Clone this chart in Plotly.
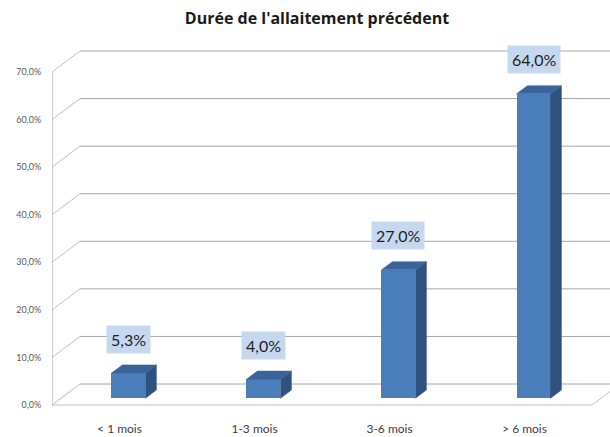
import plotly.graph_objects as go

# ---- data ----
categories = ["< 1 mois", "1-3 mois", "3-6 mois", "> 6 mois"]
values = [0.053, 0.040, 0.270, 0.640]
value_labels = ["5,3%", "4,0%", "27,0%", "64,0%"]
y_ticks = [0.0, 0.1, 0.2, 0.3, 0.4, 0.5, 0.6, 0.7]
title_text = "Durée de l'allaitement précédent"

# ---- pseudo-3D geometry (styling) ----
W, H = 610, 437
ml, mr, mt, mb = 52, 0, 40, 27
x0, x1 = -0.5, 3.633
y0, y1 = -0.0105, 0.7673
px_x = (W - ml - mr) / (x1 - x0)
px_y = (H - mt - mb) / (y1 - y0)
ddx = 28 / px_x          # wall depth in x units
ddy = 21 / px_y          # wall depth in y units
f1 = 0.32                # bar front depth fraction
fd = 0.39                # bar depth fraction
bw = 34 / px_x           # bar width

front_col = "#4a7ebb"
side_col = "#2f527f"
top_col = "#3a6499"
grid_col = "#a6a6a6"
diag_col = "#bfbfbf"

fig = go.Figure()
shapes = []

# walls / gridlines
for v in y_ticks:
    shapes.append(dict(type="line", xref="x", yref="y", x0=x0, y0=v, x1=x0 + ddx, y1=v + ddy,
                       line=dict(color=diag_col, width=1), layer="below"))
    shapes.append(dict(type="line", xref="x", yref="y", x0=x0 + ddx, y0=v + ddy, x1=x1 + 1, y1=v + ddy,
                       line=dict(color=grid_col, width=1), layer="below"))
# floor front edge and right diagonal
shapes.append(dict(type="line", xref="x", yref="y", x0=x0, y0=0, x1=3.5, y1=0,
                   line=dict(color=diag_col, width=1), layer="below"))
shapes.append(dict(type="line", xref="x", yref="y", x0=3.5, y0=0, x1=3.5 + ddx, y1=ddy,
                   line=dict(color=diag_col, width=1), layer="below"))
# left axis
shapes.append(dict(type="line", xref="x", yref="y", x0=x0, y0=0, x1=x0, y1=max(y_ticks),
                   line=dict(color=grid_col, width=1), layer="below"))

xs = list(range(len(categories)))
base = f1 * ddy
xc = [i + f1 * ddx for i in xs]

# front faces
fig.add_trace(go.Bar(x=xc, y=values, base=[base] * len(values), width=bw,
                     marker=dict(color=front_col, line=dict(width=0)), hoverinfo="skip",
                     showlegend=False))

# side and top faces
for c, v in zip(xc, values):
    xl, xr = c - bw / 2, c + bw / 2
    ox, oy = fd * ddx, fd * ddy
    top = v + base
    fig.add_trace(go.Scatter(
        x=[xr, xr + ox, xr + ox, xr, xr], y=[base, base + oy, top + oy, top, base],
        fill="toself", fillcolor=side_col, mode="lines", line=dict(color=side_col, width=0.5),
        hoverinfo="skip", showlegend=False))
    fig.add_trace(go.Scatter(
        x=[xl, xr, xr + ox, xl + ox, xl], y=[top, top, top + oy, top + oy, top],
        fill="toself", fillcolor=top_col, mode="lines", line=dict(color=top_col, width=0.5),
        hoverinfo="skip", showlegend=False))

annotations = []
for c, v, lab in zip(xc, values, value_labels):
    annotations.append(dict(x=c, y=v + base, xref="x", yref="y", text=lab, showarrow=False,
                            yshift=34, bgcolor="#c6d7f0", borderpad=4,
                            font=dict(family="Lato", size=16, color="#1f1f1f")))

fig.update_layout(
    width=W, height=H,
    margin=dict(l=ml, r=mr, t=mt, b=mb, autoexpand=False),
    paper_bgcolor="white", plot_bgcolor="white",
    separators=", ",
    title=dict(text="<b>" + title_text + "</b>", x=317 / W, xref="container", xanchor="center",
               y=1 - 18 / H, yref="container", yanchor="middle",
               font=dict(family="Open Sans", size=16, color="#1a1a1a")),
    xaxis=dict(range=[x0, x1], tickvals=xs, ticktext=categories, showgrid=False, zeroline=False,
               showline=False, ticks="", ticklabelstandoff=10, automargin=False,
               tickfont=dict(family="Lato", size=12, color="#404040"), fixedrange=True),
    yaxis=dict(range=[y0, y1], tickvals=y_ticks, tickformat=".1%", showgrid=False, zeroline=False,
               showline=False, ticks="outside", ticklen=8, tickcolor="rgba(0,0,0,0)",
               automargin=False,
               tickfont=dict(family="Lato", size=9, color="#595959"), fixedrange=True),
    shapes=shapes,
    annotations=annotations,
    bargap=0,
)

fig.write_html("out.html", config={"displayModeBar": False, "staticPlot": True},
               post_script="document.body.style.margin='0';")
